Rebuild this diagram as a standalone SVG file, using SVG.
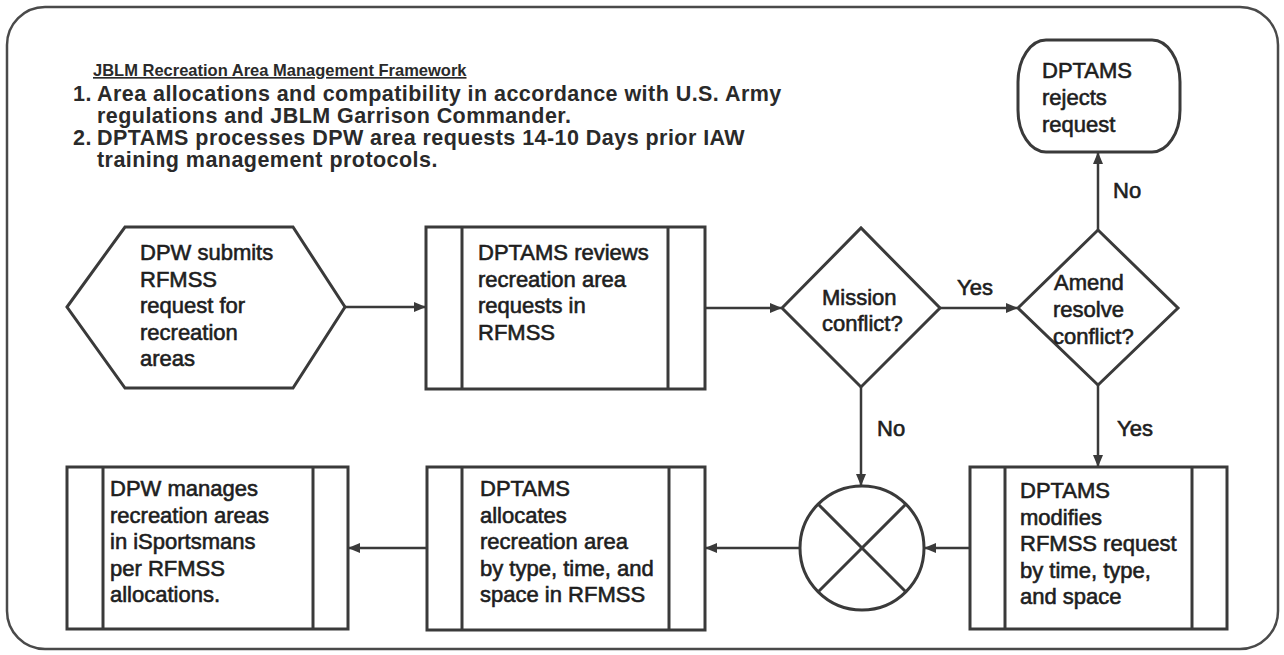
<svg xmlns="http://www.w3.org/2000/svg" width="1284" height="655" viewBox="0 0 1284 655">
<defs>
<marker id="arr" markerUnits="userSpaceOnUse" markerWidth="12" markerHeight="10" refX="11" refY="5" orient="auto">
<path d="M0,0 L12,5 L0,10 Z" fill="#3a3a3a"/>
</marker>
<style>
.shape{fill:#ffffff;stroke:#3a3a3a;stroke-width:3}
.inner{stroke:#3a3a3a;stroke-width:3;fill:none}
.conn{stroke:#3a3a3a;stroke-width:2.5;fill:none}
.t{font-family:"Liberation Sans",Arial,sans-serif;font-size:22px;fill:#1e1e1e;stroke:#1e1e1e;stroke-width:0.6}
.h{font-family:"Liberation Sans",Arial,sans-serif;font-size:21.5px;font-weight:bold;fill:#2a2a2a;letter-spacing:0.45px}
.title{font-family:"Liberation Sans",Arial,sans-serif;font-size:16.5px;font-weight:bold;fill:#2a2a2a;text-decoration:underline}
</style>
</defs>
<rect x="0" y="0" width="1284" height="655" fill="#ffffff"/>
<rect x="7" y="7" width="1271" height="642" rx="38" ry="38" fill="none" stroke="#4a4a4a" stroke-width="2.5"/>

<g id="header">
<text class="title" x="93" y="76">JBLM Recreation Area Management Framework</text>
<text class="h" x="73" y="101">1.</text>
<text class="h" x="97" y="101">Area allocations and compatibility in accordance with U.S. Army</text>
<text class="h" x="97" y="123">regulations and JBLM Garrison Commander.</text>
<text class="h" x="73" y="145">2.</text>
<text class="h" x="97" y="145">DPTAMS processes DPW area requests 14-10 Days prior IAW</text>
<text class="h" x="97" y="167">training management protocols.</text>
</g>

<g id="connectors">
<line class="conn" x1="345" y1="307" x2="425" y2="307" marker-end="url(#arr)"/>
<line class="conn" x1="705" y1="308" x2="781" y2="308" marker-end="url(#arr)"/>
<line class="conn" x1="940" y1="308" x2="1017" y2="308" marker-end="url(#arr)"/>
<line class="conn" x1="1098" y1="230" x2="1098" y2="153" marker-end="url(#arr)"/>
<line class="conn" x1="861" y1="387" x2="861" y2="485" marker-end="url(#arr)"/>
<line class="conn" x1="1098" y1="385" x2="1098" y2="466" marker-end="url(#arr)"/>
<line class="conn" x1="970" y1="548" x2="925" y2="548" marker-end="url(#arr)"/>
<line class="conn" x1="800" y1="548" x2="706" y2="548" marker-end="url(#arr)"/>
<line class="conn" x1="427" y1="548" x2="349" y2="548" marker-end="url(#arr)"/>
<text class="t" x="957" y="295">Yes</text>
<text class="t" x="1113" y="198">No</text>
<text class="t" x="877" y="436">No</text>
<text class="t" x="1117" y="436">Yes</text>
</g>

<g id="submit">
<polygon class="shape" points="67,307 125,227 293,227 345,307 293,388 125,388"/>
<text class="t" x="140" y="260">DPW submits</text>
<text class="t" x="140" y="286.5">RFMSS</text>
<text class="t" x="140" y="313">request for</text>
<text class="t" x="140" y="339.5">recreation</text>
<text class="t" x="140" y="366">areas</text>
</g>

<g id="review">
<rect class="shape" x="426" y="227" width="279" height="162"/>
<line class="inner" x1="462" y1="227" x2="462" y2="389"/>
<line class="inner" x1="668" y1="227" x2="668" y2="389"/>
<text class="t" x="478" y="260">DPTAMS reviews</text>
<text class="t" x="478" y="286.5">recreation area</text>
<text class="t" x="478" y="313">requests in</text>
<text class="t" x="478" y="339.5">RFMSS</text>
</g>

<g id="mission">
<polygon class="shape" points="782,308 861,228 940,308 861,387"/>
<text class="t" x="822" y="305">Mission</text>
<text class="t" x="822" y="331">conflict?</text>
</g>

<g id="amend">
<polygon class="shape" points="1018,308 1098,230 1178,308 1098,385"/>
<text class="t" x="1054" y="290">Amend</text>
<text class="t" x="1053" y="317">resolve</text>
<text class="t" x="1053" y="344">conflict?</text>
</g>

<g id="reject">
<rect class="shape" x="1018" y="40" width="162" height="112" rx="28" ry="42"/>
<text class="t" x="1042" y="78">DPTAMS</text>
<text class="t" x="1042" y="105">rejects</text>
<text class="t" x="1042" y="132">request</text>
</g>

<g id="modify">
<rect class="shape" x="970" y="467" width="257" height="162"/>
<line class="inner" x1="1005" y1="467" x2="1005" y2="629"/>
<line class="inner" x1="1192" y1="467" x2="1192" y2="629"/>
<text class="t" x="1020" y="498">DPTAMS</text>
<text class="t" x="1020" y="524.5">modifies</text>
<text class="t" x="1020" y="551">RFMSS request</text>
<text class="t" x="1020" y="577.5">by time, type,</text>
<text class="t" x="1020" y="604">and space</text>
</g>

<g id="merge">
<circle class="shape" cx="862" cy="548" r="62"/>
<line class="inner" x1="818" y1="504" x2="906" y2="592"/>
<line class="inner" x1="906" y1="504" x2="818" y2="592"/>
</g>

<g id="allocate">
<rect class="shape" x="427" y="467" width="278" height="163"/>
<line class="inner" x1="462" y1="467" x2="462" y2="630"/>
<line class="inner" x1="669" y1="467" x2="669" y2="630"/>
<text class="t" x="480" y="496">DPTAMS</text>
<text class="t" x="480" y="522.5">allocates</text>
<text class="t" x="480" y="549">recreation area</text>
<text class="t" x="480" y="575.5">by type, time, and</text>
<text class="t" x="480" y="602">space in RFMSS</text>
</g>

<g id="manage">
<rect class="shape" x="67" y="467" width="281" height="162"/>
<line class="inner" x1="103" y1="467" x2="103" y2="629"/>
<line class="inner" x1="313" y1="467" x2="313" y2="629"/>
<text class="t" x="110" y="496">DPW manages</text>
<text class="t" x="110" y="522.5">recreation areas</text>
<text class="t" x="110" y="549">in iSportsmans</text>
<text class="t" x="110" y="575.5">per RFMSS</text>
<text class="t" x="110" y="602">allocations.</text>
</g>
</svg>
